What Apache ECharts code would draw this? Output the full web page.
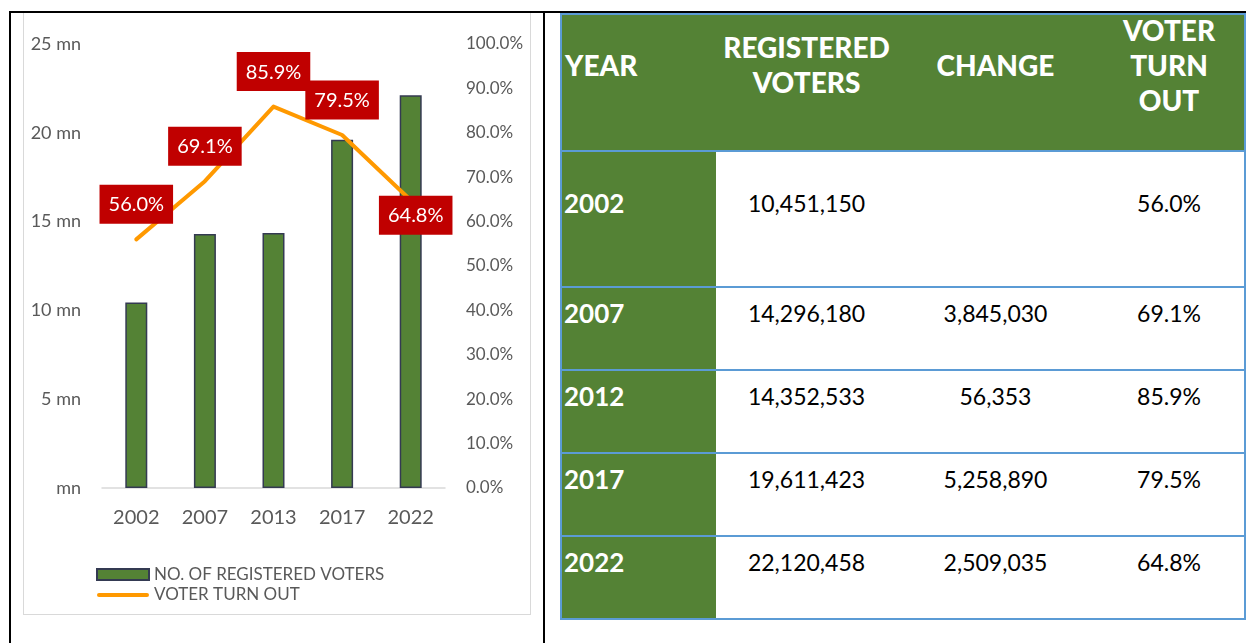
<!DOCTYPE html>
<html><head><meta charset="utf-8">
<script src="https://cdn.jsdelivr.net/npm/echarts@6/dist/echarts.min.js"></script>
<style>
html,body{margin:0;padding:0;background:#fff;}
body{width:1246px;height:643px;position:relative;overflow:hidden;font-family:Lato,'Open Sans',sans-serif;}
.bl{position:absolute;background:#000;z-index:5;}
#frame{position:absolute;left:23px;top:12px;width:508px;height:603px;border:1.5px solid #d9d9d9;box-sizing:border-box;}
#chart{position:absolute;left:0;top:0;width:545px;height:643px;}
#tbl{position:absolute;left:560px;top:13px;border-collapse:collapse;table-layout:fixed;width:684px;border:2.5px solid #5b9bd5;}
#tbl td{border-top:2.5px solid #5b9bd5;border-bottom:2.5px solid #5b9bd5;padding:0;vertical-align:middle;white-space:nowrap;}
#tbl td.h{background:#548235;color:#fff;font-weight:900;font-size:28px;line-height:35px;text-align:center;padding-bottom:35px;}
#tbl td.h.y{text-align:left;padding-left:3px;}
#tbl td.h.t{padding-bottom:0;vertical-align:top;}
#tbl td.h.t div{position:relative;top:-2px;}
#tbl td.yr{background:#548235;color:#fff;font-weight:700;font-size:26px;text-align:left;padding-left:2px;padding-bottom:32px;}
#tbl td.v{color:#000;font-size:23px;text-align:center;padding-bottom:32px;}
</style>
</head><body>
<div id="frame"></div>
<div id="chart"></div>
<table id="tbl"><colgroup><col style="width:155px"><col style="width:181px"><col style="width:197px"><col style="width:151px"></colgroup><tbody id="tb"></tbody></table>
<div class="bl" style="left:9px;top:11px;width:1237px;height:2px"></div>
<div class="bl" style="left:9px;top:11px;width:2px;height:632px"></div>
<div class="bl" style="left:543px;top:11px;width:2px;height:632px"></div>
<script>
// ---- data ----
const chartYears = ['2002','2007','2013','2017','2022'];
const tableYears = ['2002','2007','2012','2017','2022'];
const registered = [10451150,14296180,14352533,19611423,22120458];
const change = [null,3845030,56353,5258890,2509035];
const turnout = [56.0,69.1,85.9,79.5,64.8];
const headerLines = [['YEAR'],['REGISTERED','VOTERS'],['CHANGE'],['VOTER','TURN','OUT']];
const seriesNames = ['NO. OF REGISTERED VOTERS','VOTER TURN OUT'];

// ---- table ----
const rowHeights = [137,136,83,83,83,83];
const tb = document.getElementById('tb');
let html = '<tr style="height:'+rowHeights[0]+'px">';
headerLines.forEach((l,i)=>{
  const cls = 'h' + (i===0?' y':'') + (i===headerLines.length-1?' t':'');
  html += '<td class="'+cls+'"><div>'+l.join('<br>')+'</div></td>';
});
html += '</tr>';
const fmt = n => n==null ? '' : n.toLocaleString('en-US');
tableYears.forEach((y,i)=>{
  html += '<tr style="height:'+rowHeights[i+1]+'px"><td class="yr">'+y+'</td><td class="v">'+fmt(registered[i])+'</td><td class="v">'+fmt(change[i])+'</td><td class="v">'+turnout[i].toFixed(1)+'%</td></tr>';
});
tb.innerHTML = html;

// ---- chart ----
const chart = echarts.init(document.getElementById('chart'), null, {renderer:'canvas'});
const gray = '#595959';
const font = 'Lato';
chart.setOption({
  animation:false,
  textStyle:{fontFamily:font},
  grid:{left:102,right:100,top:44,bottom:155,containLabel:false},
  legend:{
    orient:'vertical',left:96,top:566,padding:0,itemWidth:52,itemHeight:11,itemGap:3.5,
    textStyle:{fontSize:17,color:gray,fontFamily:font},
    data:[
      {name:seriesNames[0],icon:'rect'},
      {name:seriesNames[1],icon:'path://M2,0h48a2,2 0 0 1 0,4h-48a2,2 0 0 1 0,-4z'}
    ]
  },
  xAxis:{
    type:'category',data:chartYears,
    axisLine:{show:true,lineStyle:{color:'#d9d9d9',width:1.5}},
    axisTick:{show:false},
    axisLabel:{fontSize:20,color:gray,margin:20,fontFamily:font}
  },
  yAxis:[
    {type:'value',min:0,max:25,interval:5,
     axisLine:{show:false},axisTick:{show:false},splitLine:{show:false},
     axisLabel:{fontSize:18,color:gray,margin:21,fontFamily:font,formatter:v=>v===0?'mn':v+' mn'}},
    {type:'value',min:0,max:100,interval:10,position:'right',
     axisLine:{show:false},axisTick:{show:false},splitLine:{show:false},
     axisLabel:{fontSize:17,color:gray,margin:21,fontFamily:font,formatter:v=>v.toFixed(1)+'%'}}
  ],
  series:[
    {name:seriesNames[0],type:'bar',data:registered.map(v=>v/1e6),barWidth:22,
     itemStyle:{color:'#548235',borderColor:'#343a52',borderWidth:1.5},z:2},
    {name:seriesNames[1],type:'line',yAxisIndex:1,
     data:turnout.map((v,i)=> i===turnout.length-1 ? {value:v,label:{position:'inside',offset:[5,15]}} : v),
     symbol:'circle',symbolSize:1,showSymbol:true,
     itemStyle:{color:'#ff9900'},
     lineStyle:{color:'#ff9900',width:4,cap:'round',join:'round'},
     z:3,
     label:{show:true,position:'top',distance:15,backgroundColor:'#c00000',color:'#fff',
            fontSize:20,fontFamily:font,padding:[10,9,9,9],formatter:p=>p.value.toFixed(1)+'%'}}
  ]
});
</script>
</body></html>
